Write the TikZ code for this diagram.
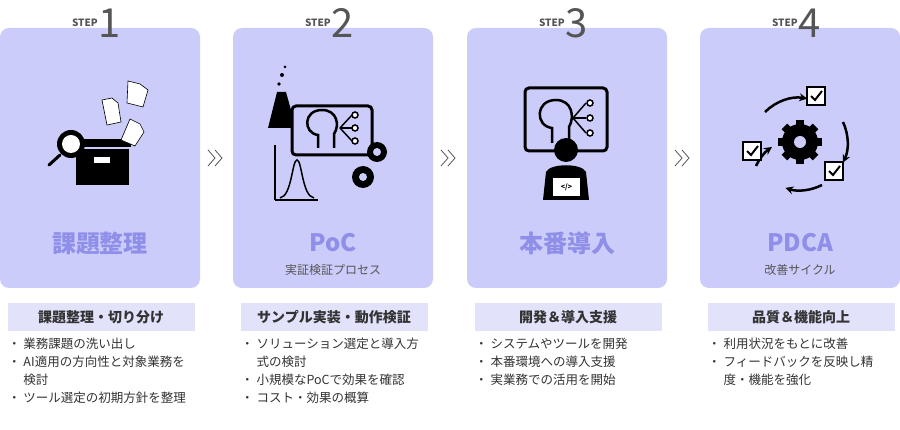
\documentclass[tikz,border=0pt]{standalone}
\usepackage{fontspec}
\setmainfont{Noto Sans CJK JP}
\usetikzlibrary{calc}
\definecolor{card}{HTML}{CCCCFA}
\definecolor{ttl}{HTML}{8F8FEA}
\definecolor{lab}{HTML}{E2E2FB}
\definecolor{txt}{HTML}{333333}
\definecolor{stp}{HTML}{555555}
\tikzset{x=1pt,y=-1pt,
 cardbox/.style={fill=card,rounded corners=9pt,draw=none},
 labbox/.style={fill=lab,minimum width=187pt,minimum height=28pt,inner sep=0pt,font=\fontsize{14}{14}\selectfont\bfseries,text=txt},
 ttltext/.style={text=ttl,font=\fontsize{24}{24}\selectfont\bfseries},
 subtext/.style={text=stp,font=\fontsize{12}{12}\selectfont},
 bul/.style={anchor=north west,align=left,text=txt,font=\fontsize{12.5}{18}\selectfont,inner sep=0pt},
 chev/.style={draw=stp,line width=0.8pt},
 ic/.style={fill=black},
 doc/.style={fill=white,draw=black,line width=0.6pt}}
\newcommand{\steplabel}[3]{\node[anchor=base east,text=stp,font=\fontsize{10}{10}\selectfont\bfseries,inner sep=0pt] (#3s) at (#1-2,27) {STEP};
 \node[anchor=base west,text=stp,font=\fontsize{40}{40}\selectfont,inner sep=0pt] (#3n) at (#1-2,38) {#2};}
\newcommand{\chevs}[2]{\draw[chev] (#1,150)--(#1+7,158)--(#1,166); \draw[chev] (#1+7,150)--(#1+14,158)--(#1+7,166);}
\begin{document}
\begin{tikzpicture}
\useasboundingbox (0,0) rectangle (900,430);
\fill[white] (0,0) rectangle (900,430);
\foreach \x in {0,233,467,700}{\path[cardbox] (\x,28) rectangle (\x+200,288);}
\steplabel{100}{1}{a}
\steplabel{333}{2}{b}
\steplabel{567}{3}{c}
\steplabel{800}{4}{d}
\chevs{208}{}
\chevs{441}{}
\chevs{675}{}
\node[ttltext] (t1) at (100,243) {課題整理};
\node[ttltext] (t2) at (333,243) {PoC};
\node[subtext] (s2) at (333,270) {実証検証プロセス};
\node[ttltext] (t3) at (567,243) {本番導入};
\node[ttltext] (t4) at (800,243) {PDCA};
\node[subtext] (s4) at (800,270) {改善サイクル};
% icon1
\fill[ic] (76,149) rectangle (129,185);
\fill[ic] (73,139) rectangle (131,147);
\fill[white] (94,157) rectangle (110,163);
\draw[line width=3pt,line cap=round] (49,165) -- (60,155);
\fill[ic] (71,144) circle (14); \fill[white] (71,144) circle (9);
\draw[doc] (102,100)--(112,98)--(118,103)--(121,122)--(107,125)--cycle;
\draw[doc] (128,81)--(140,84)--(148,90)--(143,107)--(127,103)--cycle;
\draw[doc] (121,140)--(130,119)--(140,124)--(144,132)--(135,146)--cycle;
% icon2
\fill[ic] (268,128) -- (277,92) -- (286,92) -- (296,128) -- cycle;
\fill[ic] (282,75) circle (2); \fill[ic] (285,67) circle (1.5); \fill[ic] (279,84) circle (1.8);
\draw[line width=1.5pt] (275,200) -- (275,145); \draw[line width=1.5pt] (275,200) -- (318,200);
\draw[line width=1.5pt] (280,198) .. controls (292,196) and (292,160) .. (297,160) .. controls (302,160) and (302,196) .. (314,198);
\draw[line width=3pt,fill=card,rounded corners=4pt] (292,106) rectangle (372,155);
\draw[line width=2.5pt] (318,148) -- (318,135) .. controls (303,133) and (303,110) .. (322,110) .. controls (337,110) and (340,125) .. (334,134) -- (334,148);
\foreach \yy in {115,128,141}{\draw[line width=1.5pt] (340,128) -- (352,\yy); \draw[line width=1.5pt,fill=white] (355,\yy) circle (3);}
\fill[ic] (377,152) circle (10); \fill[card] (377,152) circle (4);
\fill[ic] (363,177) circle (11); \fill[card] (363,177) circle (4);
% icon3
\draw[line width=3pt,fill=card,rounded corners=4pt] (525,88) rectangle (607,151);
\draw[line width=2.5pt] (552,143) -- (552,128) .. controls (535,126) and (535,100) .. (556,100) .. controls (572,100) and (575,117) .. (569,127) -- (569,143);
\foreach \yy in {103,118,133}{\draw[line width=1.5pt] (573,118) -- (586,\yy); \draw[line width=1.5pt,fill=white] (590,\yy) circle (3);}
\fill[ic] (566,150) circle (12);
\fill[ic] (543,200) -- (546,172) .. controls (550,163) and (582,163) .. (586,172) -- (589,200) -- cycle;
\fill[white] (553,178) rectangle (580,196);
\node[font=\fontsize{7}{7}\selectfont\bfseries,inner sep=0pt] (code) at (566.5,187) {</>};
% icon4
\fill[ic] (800,142) circle (18); \fill[card] (800,142) circle (6);
\foreach \a in {0,45,...,315}{\fill[ic,rotate around={\a:(800,142)}] (796,120) rectangle (804,126);}
\draw[line width=2.5pt,-stealth] (765,112) arc (225:280:48);
\draw[line width=2.5pt,-stealth] (843,122) arc (335:385:48);
\draw[line width=2.5pt,-stealth] (822,185) arc (63:108:48);
\draw[line width=2.5pt,-stealth] (756,166) arc (205:235:48);
\foreach \cx/\cy in {816/96, 752/151, 834/171}{\draw[line width=2pt,fill=white] (\cx-9,\cy-9) rectangle (\cx+9,\cy+9); \draw[line width=2pt] (\cx-5,\cy) -- (\cx-1,\cy+4) -- (\cx+6,\cy-5);}
% label boxes
\node[labbox] (l1) at (101,317) {課題整理・切り分け};
\node[labbox] (l2) at (334,317) {サンプル実装・動作検証};
\node[labbox] (l3) at (568,317) {開発＆導入支援};
\node[labbox] (l4) at (801,317) {品質＆機能向上};
\node[bul] (b1) at (8,338) {・ 業務課題の洗い出し\\・ AI適用の方向性と対象業務を\\\phantom{・ }検討\\・ ツール選定の初期方針を整理};
\node[bul] (b2) at (241,338) {・ ソリューション選定と導入方\\\phantom{・ }式の検討\\・ 小規模なPoCで効果を確認\\・ コスト・効果の概算};
\node[bul] (b3) at (475,338) {・ システムやツールを開発\\・ 本番環境への導入支援\\・ 実業務での活用を開始};
\node[bul] (b4) at (708,338) {・ 利用状況をもとに改善\\・ フィードバックを反映し精\\\phantom{・ }度・機能を強化};
\end{tikzpicture}
\end{document}
